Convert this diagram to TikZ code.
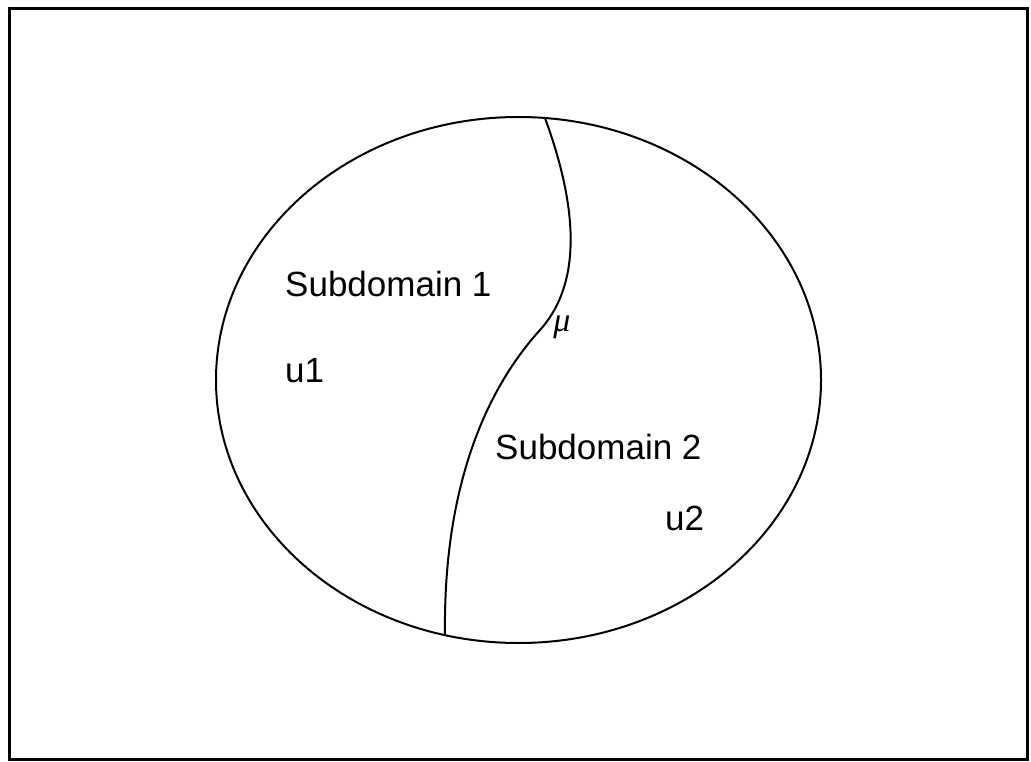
\documentclass[tikz,border=0pt]{standalone}
\usepackage{fontspec}
\setmainfont{Liberation Sans}
\newfontfamily\muserif{Liberation Serif}
\begin{document}
\begin{tikzpicture}[x=1pt,y=-1pt,
  lbl/.style={anchor=base west, inner sep=0pt, font=\fontsize{35}{40}\selectfont},
  edge/.style={line width=2pt, black}]
\useasboundingbox (0,0) rectangle (1031,762);
\draw[line width=3pt] (9,9) rectangle (1027,759);
\draw[edge] (518.5,380) ellipse [x radius=302.5, y radius=263];
\coordinate (top) at (545,118);
\coordinate (mid) at (540,330);
\coordinate (bot) at (445,635);
\draw[edge] (top) .. controls (575,200) and (585,280) .. (mid)
            .. controls (490,385) and (443,480) .. (bot);
\node[lbl] (s1) at (285,296) {Subdomain 1};
\node[lbl] (u1) at (285,382) {u1};
\node[lbl] (s2) at (495,459) {Subdomain 2};
\node[lbl] (u2) at (665,530) {u2};
\node[inner sep=0pt, font=\muserif\itshape\fontsize{34}{40}\selectfont] (mu) at (562,327) {μ};
\end{tikzpicture}
\end{document}
